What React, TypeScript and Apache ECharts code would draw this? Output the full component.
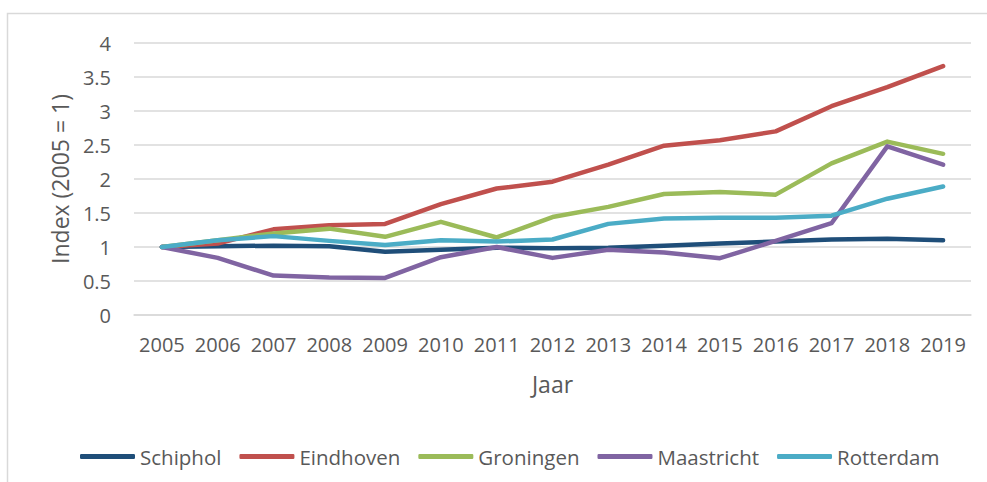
import React, { useEffect, useRef } from "react";
import * as echarts from "echarts";

const years = ["2005", "2006", "2007", "2008", "2009", "2010", "2011", "2012", "2013", "2014", "2015", "2016", "2017", "2018", "2019"];
const schiphol = [1, 1.01, 1.02, 1.01, 0.93, 0.96, 0.99, 0.98, 0.99, 1.02, 1.05, 1.08, 1.11, 1.12, 1.1];
const eindhoven = [1, 1.05, 1.26, 1.32, 1.34, 1.63, 1.86, 1.96, 2.21, 2.49, 2.57, 2.7, 3.07, 3.35, 3.66];
const groningen = [1, 1.1, 1.2, 1.27, 1.15, 1.37, 1.14, 1.44, 1.59, 1.78, 1.81, 1.77, 2.23, 2.55, 2.37];
const maastricht = [1, 0.84, 0.58, 0.55, 0.545, 0.85, 1.0, 0.84, 0.96, 0.92, 0.835, 1.09, 1.35, 2.48, 2.21];
const rotterdam = [1, 1.1, 1.16, 1.09, 1.03, 1.1, 1.08, 1.11, 1.34, 1.42, 1.43, 1.43, 1.46, 1.71, 1.89];

const seriesDefs = [
  { name: "Schiphol", data: schiphol, color: "#1F4E79" },
  { name: "Eindhoven", data: eindhoven, color: "#C0504D" },
  { name: "Groningen", data: groningen, color: "#9BBB59" },
  { name: "Maastricht", data: maastricht, color: "#8064A2" },
  { name: "Rotterdam", data: rotterdam, color: "#4BACC6" },
];

const FONT = "'Open Sans', sans-serif";
const TEXT = "#595959";

export default function App() {
  const ref = useRef<HTMLDivElement>(null);
  useEffect(() => {
    if (!ref.current) return;
    const chart = echarts.init(ref.current, undefined, { renderer: "svg" });
    chart.setOption({
      animation: false,
      backgroundColor: "#ffffff",
      graphic: [
        {
          type: "rect",
          shape: { x: 7.5, y: 13.5, width: 1000, height: 500 },
          style: { fill: "none", stroke: "#d9d9d9", lineWidth: 1.5 },
          silent: true,
        },
      ],
      grid: {
        left: 134,
        right: 16,
        top: 43,
        bottom: 167,
        containLabel: false,
        outerBoundsMode: "none",
      },
      legend: {
        left: 75,
        top: 441,
        itemWidth: 55,
        itemHeight: 5,
        itemGap: 18,
        icon: "roundRect",
        textStyle: { fontFamily: FONT, fontSize: 20.5, color: TEXT },
        data: seriesDefs.map((s) => ({ name: s.name, icon: "roundRect" })),
      },
      xAxis: {
        type: "category",
        data: years,
        boundaryGap: true,
        name: "Jaar",
        nameLocation: "middle",
        nameGap: 57,
        nameTextStyle: { fontFamily: FONT, fontSize: 23, color: TEXT },
        axisLine: { show: true, lineStyle: { color: "#d9d9d9", width: 1.5 } },
        axisTick: { show: false },
        axisLabel: { interval: 0, fontFamily: FONT, fontSize: 20, color: TEXT, margin: 19 },
        splitLine: { show: false },
      },
      yAxis: {
        type: "value",
        min: 0,
        max: 4,
        interval: 0.5,
        name: "Index (2005 = 1)",
        nameLocation: "middle",
        nameGap: 61,
        nameRotate: 90,
        nameTextStyle: { fontFamily: FONT, fontSize: 23, color: TEXT },
        axisLine: { show: false },
        axisTick: { show: false },
        axisLabel: { fontFamily: FONT, fontSize: 20, color: TEXT, margin: 23 },
        splitLine: { show: true, lineStyle: { color: "#d9d9d9", width: 1.5 } },
      },
      series: seriesDefs.map((s) => ({
        name: s.name,
        type: "line",
        data: s.data,
        color: s.color,
        showSymbol: false,
        symbol: "none",
        lineStyle: { width: 4.5, color: s.color, cap: "round", join: "round" },
        itemStyle: { color: s.color },
      })),
    });
    return () => chart.dispose();
  }, []);
  return (
    <div
      ref={ref}
      style={{ position: "fixed", left: 0, top: 0, width: 987, height: 482 }}
    />
  );
}
